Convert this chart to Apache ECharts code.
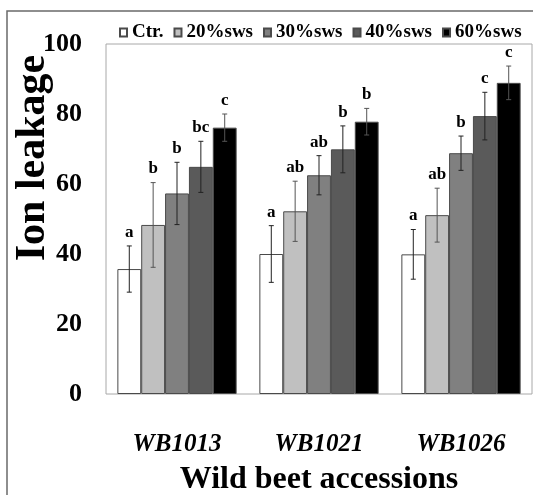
<!DOCTYPE html>
<html>
<head>
<meta charset="utf-8">
<script src="https://cdn.jsdelivr.net/npm/echarts@6/dist/echarts.min.js"></script>
<style>
  html, body { margin: 0; padding: 0; background: #fff; }
  #chart { width: 533px; height: 495px; }
</style>
</head>
<body>
<div id="chart"></div>
<script>
// ---- Data ----
var categories = ['WB1013', 'WB1021', 'WB1026'];
var seriesNames = ['Ctr.', '20%sws', '30%sws', '40%sws', '60%sws'];
var ctrValues   = [35.7, 40.0, 39.9];
var sws20Values = [48.3, 52.2, 51.1];
var sws30Values = [57.3, 62.5, 68.8];
var sws40Values = [64.9, 69.9, 79.4];
var sws60Values = [76.1, 77.8, 88.9];
var ctrErr   = [6.6, 8.1, 7.1];
var sws20Err = [12.1, 8.6, 7.7];
var sws30Err = [8.9, 5.6, 4.9];
var sws40Err = [7.3, 6.7, 6.8];
var sws60Err = [3.9, 3.8, 4.8];
var ctrLetters   = ['a', 'a', 'a'];
var sws20Letters = ['b', 'ab', 'ab'];
var sws30Letters = ['b', 'ab', 'b'];
var sws40Letters = ['bc', 'b', 'c'];
var sws60Letters = ['c', 'b', 'c'];
var yTicks = [0, 20, 40, 60, 80, 100];

var values  = [ctrValues, sws20Values, sws30Values, sws40Values, sws60Values];
var errors  = [ctrErr, sws20Err, sws30Err, sws40Err, sws60Err];
var letters = [ctrLetters, sws20Letters, sws30Letters, sws40Letters, sws60Letters];
var colors  = ['#ffffff', '#c0c0c0', '#808080', '#5a5a5a', '#000000'];
var errColors = ['#222222', '#555555', '#222222', '#222222', '#555555'];

var CAT_GAP = 0.16;
var SERIF = '"Liberation Serif", "Times New Roman", serif';

var series = [];
values.forEach(function (vals, i) {
  series.push({
    name: seriesNames[i],
    type: 'bar',
    data: vals,
    barGap: '0%',
    barCategoryGap: (CAT_GAP * 100) + '%',
    itemStyle: { color: colors[i], borderColor: '#4a4a4a', borderWidth: 1 }
  });
});
values.forEach(function (vals, i) {
  series.push({
    name: seriesNames[i] + ' err',
    type: 'custom',
    data: vals.map(function (v, k) { return [k, v, errors[i][k]]; }),
    z: 5,
    renderItem: function (params, api) {
      var k = api.value(0), v = api.value(1), e = api.value(2);
      var band = api.size([1, 0])[0];
      var bw = band * (1 - CAT_GAP) / values.length;
      var cx = api.coord([k, v])[0] + (i - (values.length - 1) / 2) * bw;
      var yTop = api.coord([k, v + e])[1];
      var yBot = api.coord([k, v - e])[1];
      var c = errColors[i];
      var cap = 2.5;
      return {
        type: 'group',
        children: [
          { type: 'line', shape: { x1: cx, y1: yTop, x2: cx, y2: yBot }, style: { stroke: c, lineWidth: 1 } },
          { type: 'line', shape: { x1: cx - cap, y1: yTop, x2: cx + cap, y2: yTop }, style: { stroke: c, lineWidth: 1 } },
          { type: 'line', shape: { x1: cx - cap, y1: yBot, x2: cx + cap, y2: yBot }, style: { stroke: c, lineWidth: 1 } },
          { type: 'text', style: {
              text: letters[i][params.dataIndex], x: cx, y: yTop - 5,
              align: 'center', verticalAlign: 'bottom',
              fontFamily: SERIF, fontWeight: 'bold', fontSize: 17, fill: '#000'
          } }
        ]
      };
    }
  });
});

var chart = echarts.init(document.getElementById('chart'));
chart.setOption({
  animation: false,
  backgroundColor: '#ffffff',
  graphic: [
    { type: 'rect', z: -10, silent: true, shape: { x: 7, y: 11, width: 700, height: 700 },
      style: { fill: 'none', stroke: '#6a6a6a', lineWidth: 1.5 } },
    { type: 'text', silent: true, x: 33, y: 158, rotation: Math.PI / 2,
      style: { text: 'Ion leakage', align: 'center', verticalAlign: 'middle',
               fontFamily: SERIF, fontWeight: 'bold', fontSize: 42, fill: '#000' } }
  ],
  legend: {
    data: seriesNames,
    left: 119, top: 23, width: 430, padding: 0,
    icon: 'rect', itemWidth: 7, itemHeight: 8, itemGap: 10,
    textStyle: { fontFamily: SERIF, fontWeight: 'bold', fontSize: 19, color: '#000' }
  },
  grid: {
    left: 106, top: 44, right: 1, bottom: 101,
    outerBoundsMode: 'none',
    show: true, borderColor: '#a8a8a8', borderWidth: 1
  },
  xAxis: {
    type: 'category',
    data: categories,
    axisLine: { show: false },
    axisTick: { show: false },
    axisLabel: { margin: 38, color: '#000', fontFamily: SERIF, fontWeight: 'bold', fontStyle: 'italic', fontSize: 25 },
    name: 'Wild beet accessions',
    nameLocation: 'middle',
    nameGap: 70,
    nameTextStyle: { color: '#000', fontFamily: SERIF, fontWeight: 'bold', fontSize: 32 }
  },
  yAxis: {
    type: 'value',
    min: yTicks[0], max: yTicks[yTicks.length - 1], interval: yTicks[1] - yTicks[0],
    axisLine: { show: false },
    axisTick: { show: false },
    splitLine: { show: false },
    axisLabel: { margin: 24, color: '#000', fontFamily: SERIF, fontWeight: 'bold', fontSize: 26, padding: [0, 0, 8, 0] }
  },
  series: series
});
</script>
</body>
</html>
